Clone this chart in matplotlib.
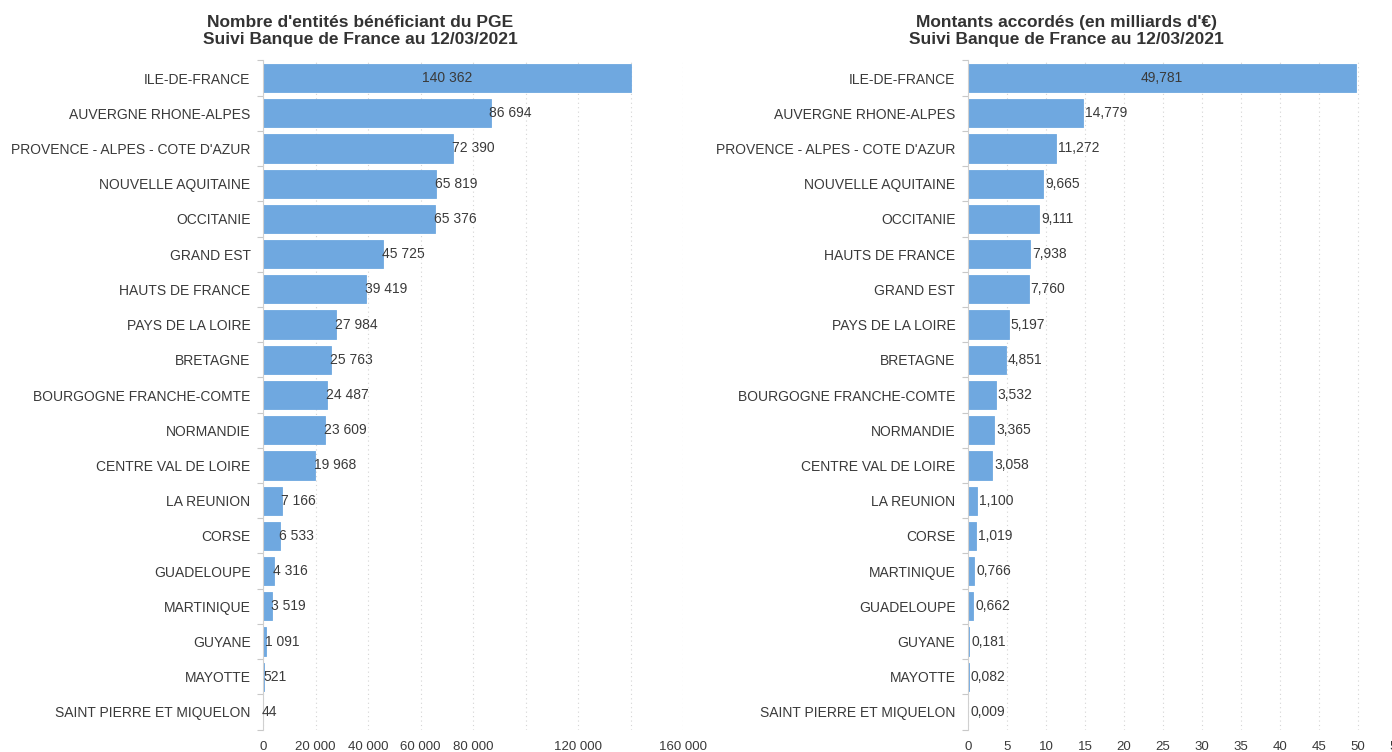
import matplotlib
matplotlib.use("Agg")
import matplotlib.pyplot as plt
from matplotlib.ticker import FixedLocator

plt.rcParams['font.family'] = ['Liberation Sans', 'DejaVu Sans']

# left chart: number of entities
regions_left = ["ILE-DE-FRANCE", "AUVERGNE RHONE-ALPES", "PROVENCE - ALPES - COTE D'AZUR",
                "NOUVELLE AQUITAINE", "OCCITANIE", "GRAND EST", "HAUTS DE FRANCE",
                "PAYS DE LA LOIRE", "BRETAGNE", "BOURGOGNE FRANCHE-COMTE", "NORMANDIE",
                "CENTRE VAL DE LOIRE", "LA REUNION", "CORSE", "GUADELOUPE", "MARTINIQUE",
                "GUYANE", "MAYOTTE", "SAINT PIERRE ET MIQUELON"]
entities = [140362, 86694, 72390, 65819, 65376, 45725, 39419, 27984, 25763, 24487,
            23609, 19968, 7166, 6533, 4316, 3519, 1091, 521, 44]

# right chart: amounts (billions of euros)
regions_right = ["ILE-DE-FRANCE", "AUVERGNE RHONE-ALPES", "PROVENCE - ALPES - COTE D'AZUR",
                 "NOUVELLE AQUITAINE", "OCCITANIE", "HAUTS DE FRANCE", "GRAND EST",
                 "PAYS DE LA LOIRE", "BRETAGNE", "BOURGOGNE FRANCHE-COMTE", "NORMANDIE",
                 "CENTRE VAL DE LOIRE", "LA REUNION", "CORSE", "MARTINIQUE", "GUADELOUPE",
                 "GUYANE", "MAYOTTE", "SAINT PIERRE ET MIQUELON"]
amounts = [49.781, 14.779, 11.272, 9.665, 9.111, 7.938, 7.760, 5.197, 4.851, 3.532,
           3.365, 3.058, 1.100, 1.019, 0.766, 0.662, 0.181, 0.082, 0.009]

left_ticks = [0, 20000, 40000, 60000, 80000, 100000, 120000, 140000, 160000]
left_ticklabels = ["0", "20 000", "40 000", "60 000", "80 000", "", "120 000", "", "160 000"]
right_ticks = list(range(0, 60, 5))

bar_color = "#6fa8e0"
text_color = "#3a3a3a"

fig = plt.figure(figsize=(13.92, 7.52), dpi=100)
ax1 = fig.add_axes([263/1392, 1-729.6/752, 420/1392, (729.6-60.4)/752])
ax2 = fig.add_axes([968/1392, 1-729.6/752, 429/1392, (729.6-60.4)/752])


def fmt_int(v):
    return f"{v:,}".replace(",", " ")


def fmt_dec(v):
    return f"{v:.3f}".replace(".", ",")


def draw(ax, cats, vals, xmax, ticks, ticklabels, fmt, offset):
    y = list(range(len(cats)))
    ax.barh(y, vals, height=0.8, color=bar_color, edgecolor=bar_color, linewidth=0.6, zorder=2)
    ax.set_ylim(len(cats)-0.5, -0.5)
    ax.set_xlim(0, xmax)
    ax.set_yticks(y)
    ax.set_yticklabels(cats, fontsize=10, color=text_color)
    ax.yaxis.set_minor_locator(FixedLocator([i - 0.5 for i in range(len(cats)+1)]))
    ax.tick_params(axis='y', which='major', length=0, pad=9)
    ax.tick_params(axis='y', which='minor', length=4, color="#c8c8c8", width=0.8)
    ax.set_xticks(ticks)
    ax.set_xticklabels(ticklabels, fontsize=9.5, color=text_color)
    ax.tick_params(axis='x', length=0, pad=8)
    ax.grid(axis='x', linestyle=(0, (1, 3)), color="#d4d4d4", linewidth=0.8, zorder=0)
    for s in ["top", "right", "bottom"]:
        ax.spines[s].set_visible(False)
    ax.spines["left"].set_color("#d0d0d0")
    for i, v in enumerate(vals):
        if i == 0:
            ax.text(v/2, i, fmt(v), ha='center', va='center', fontsize=10, color=text_color, zorder=3)
        else:
            ax.annotate(fmt(v), (v, i), xytext=(offset, 0), textcoords='offset points',
                        ha='left', va='center', fontsize=10, color=text_color, zorder=3)


draw(ax1, regions_left, entities, 160000, left_ticks, left_ticklabels, fmt_int, -0.8)
draw(ax2, regions_right, amounts, 55, right_ticks, [str(t) for t in right_ticks], fmt_dec, 1.5)

fig.text(360/1392, 1-31/752, "Nombre d'entités bénéficiant du PGE\nSuivi Banque de France au 12/03/2021",
         ha='center', va='center', fontsize=12.5, fontweight='bold', color="#333333", linespacing=1.1)
fig.text(1066/1392, 1-31/752, "Montants accordés (en milliards d'€)\nSuivi Banque de France au 12/03/2021",
         ha='center', va='center', fontsize=12.5, fontweight='bold', color="#333333", linespacing=1.1)

fig.savefig("out.png", dpi=100)
